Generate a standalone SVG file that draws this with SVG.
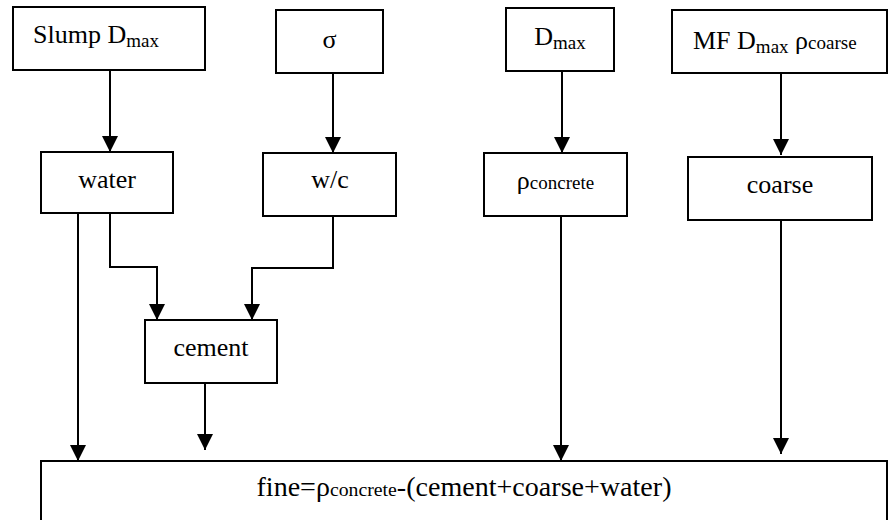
<svg xmlns="http://www.w3.org/2000/svg" width="888" height="520" viewBox="0 0 888 520">
  <style>
    .box { fill: #fff; stroke: #000; stroke-width: 2; }
    text { font-family: 'Liberation Serif', 'Times New Roman', Times, serif; font-size: 26px; fill: #000; }
    .sub { font-size: 19px; }
    .edge { fill: none; stroke: #000; stroke-width: 2; marker-end: url(#arrow); }
  </style>
  <defs>
    <marker id="arrow" markerUnits="userSpaceOnUse" markerWidth="16" markerHeight="16" refX="16" refY="8" orient="auto">
      <path d="M0,0 L16,8 L0,16 Z" fill="#000"/>
    </marker>
  </defs>

  <g font-family="Liberation Serif, serif">
  <!-- inputs -->
  <g id="slump-dmax">
    <rect class="box" x="13" y="7" width="192" height="63"/>
    <text x="33" y="43">Slump D<tspan class="sub" dy="4">max</tspan></text>
  </g>
  <g id="sigma">
    <rect class="box" x="276" y="10" width="107" height="63"/>
    <text x="329.5" y="48" text-anchor="middle">σ</text>
  </g>
  <g id="dmax">
    <rect class="box" x="506" y="8" width="108" height="63"/>
    <text x="560" y="45" text-anchor="middle">D<tspan class="sub" dy="4">max</tspan></text>
  </g>
  <g id="mf-dmax-rho">
    <rect class="box" x="672" y="10" width="215" height="63"/>
    <text x="693" y="49">MF D<tspan class="sub" dy="4">max</tspan><tspan dy="-4"> ρ</tspan><tspan class="sub">coarse</tspan></text>
  </g>

  <!-- intermediate results -->
  <g id="water">
    <rect class="box" x="41" y="152" width="132" height="61"/>
    <text x="107" y="188" text-anchor="middle">water</text>
  </g>
  <g id="wc">
    <rect class="box" x="263" y="153" width="133" height="63"/>
    <text x="330" y="188" text-anchor="middle">w/c</text>
  </g>
  <g id="rho-concrete">
    <rect class="box" x="484" y="153" width="143" height="63"/>
    <text x="555.5" y="189" text-anchor="middle">ρ<tspan class="sub">concrete</tspan></text>
  </g>
  <g id="coarse">
    <rect class="box" x="688" y="157" width="184" height="63"/>
    <text x="780" y="193" text-anchor="middle">coarse</text>
  </g>
  <g id="cement">
    <rect class="box" x="145" y="320" width="132" height="63"/>
    <text x="211" y="356" text-anchor="middle">cement</text>
  </g>

  <!-- final result -->
  <g id="fine">
    <rect class="box" x="41" y="461" width="846" height="80"/>
    <text x="464" y="496" text-anchor="middle" style="font-size:27px" textLength="415" lengthAdjust="spacingAndGlyphs">fine=ρ<tspan class="sub">concrete</tspan>-(cement+coarse+water)</text>
  </g>
  </g>

  <!-- connectors -->
  <g id="connectors">
    <path class="edge" d="M110,70 V152"/>
    <path class="edge" d="M333,73 V153"/>
    <path class="edge" d="M562,71 V153"/>
    <path class="edge" d="M781,73 V155"/>
    <path class="edge" d="M110,213 V267 H157 V320"/>
    <path class="edge" d="M333,216 V268 H252 V320"/>
    <path class="edge" d="M78,213 V461"/>
    <path class="edge" d="M205,383 V450"/>
    <path class="edge" d="M561,216 V461"/>
    <path class="edge" d="M781,220 V454"/>
  </g>
</svg>
